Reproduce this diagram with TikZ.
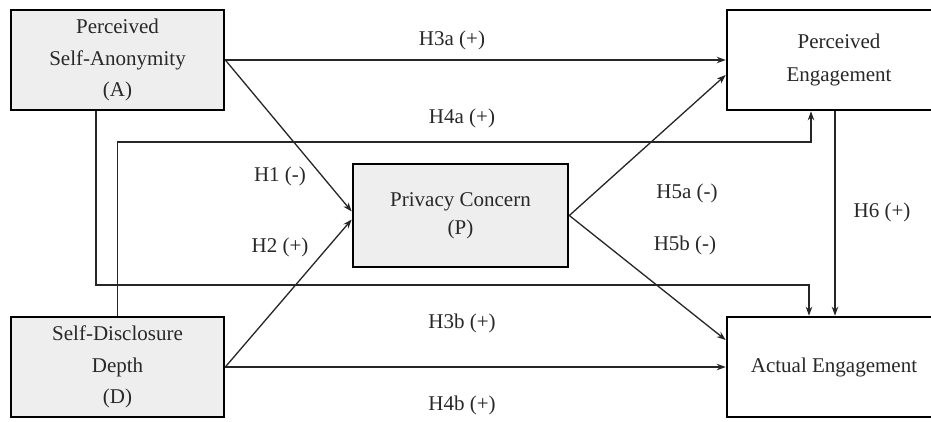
\documentclass[tikz,border=0pt]{standalone}
\usepackage{fontspec}
\setmainfont{Liberation Serif}
\usetikzlibrary{arrows.meta,calc}
\definecolor{boxfill}{RGB}{238,238,238}
\definecolor{ink}{RGB}{40,40,40}
\tikzset{
  vbox/.style={draw=black, line width=2.6pt, align=center, inner sep=0pt,
     font=\fontsize{21}{31.5}\selectfont, text=ink},
  grayvbox/.style={vbox, fill=boxfill},
  whitevbox/.style={vbox, fill=white},
  arr/.style={line width=1.3pt, draw=black!85, -{Stealth[length=9pt,width=6.5pt]}},
  plainline/.style={line width=1.3pt, draw=black!85},
  hlabel/.style={font=\fontsize{21}{25}\selectfont, text=ink, inner sep=0pt}
}
\begin{document}
\begin{tikzpicture}[x=1pt,y=-1pt]
\useasboundingbox (0,0) rectangle (931,422);
\clip (0,0) rectangle (931,422);
\fill[white] (0,0) rectangle (931,422);

% nodes
\node[grayvbox, minimum width=213pt, minimum height=100pt] (A) at (117.5,60) {Perceived\\Self-Anonymity\\(A)};
\node[grayvbox, minimum width=213pt, minimum height=100pt] (D) at (117.5,367) {Self-Disclosure\\Depth\\(D)};
\node[grayvbox, minimum width=215pt, minimum height=103pt, font=\fontsize{21}{28}\selectfont] (P) at (460.5,215.5) {Privacy Concern\\(P)};
\node[whitevbox, minimum width=224pt, minimum height=100pt, font=\fontsize{21}{33}\selectfont] (PE) at (839,60) {Perceived\\Engagement};
\node[whitevbox, minimum width=214pt, minimum height=100pt] (AE) at (834,367) {Actual Engagement};

% connectors
\draw[arr] (A.east) -- (PE.west);
\draw[arr] (A.east) -- ([yshift=4pt]P.west);
\draw[arr] (D.east) -- ([yshift=-4pt]P.west);
\draw[arr] (D.east) -- (AE.west);
\draw[arr] (P.east) -- ([yshift=-15pt]PE.west);
\draw[arr] (P.east) -- ([yshift=27pt]AE.west);
\draw[arr] (D.north) -- (D.north |- 0,142) -| ([xshift=-28pt]PE.south);
\draw[arr] ([xshift=-21.5pt]A.south) -- ([xshift=-21.5pt]A.south |- 0,285) -| ([xshift=-25pt]AE.north);
\draw[arr] ([xshift=-4pt]PE.south) -- ([xshift=-4pt]PE.south |- AE.north);

% labels
\node[hlabel] (l3a) at (452,40) {H3a (+)};
\node[hlabel] (l4a) at (462,118) {H4a (+)};
\node[hlabel] (l1) at (280,176) {H1 (-)};
\node[hlabel] (l2) at (280,247) {H2 (+)};
\node[hlabel] (l5a) at (687,193) {H5a (-)};
\node[hlabel] (l5b) at (685,245) {H5b (-)};
\node[hlabel] (l6) at (882,212) {H6 (+)};
\node[hlabel] (l3b) at (462,323) {H3b (+)};
\node[hlabel] (l4b) at (462,405) {H4b (+)};
\end{tikzpicture}
\end{document}
